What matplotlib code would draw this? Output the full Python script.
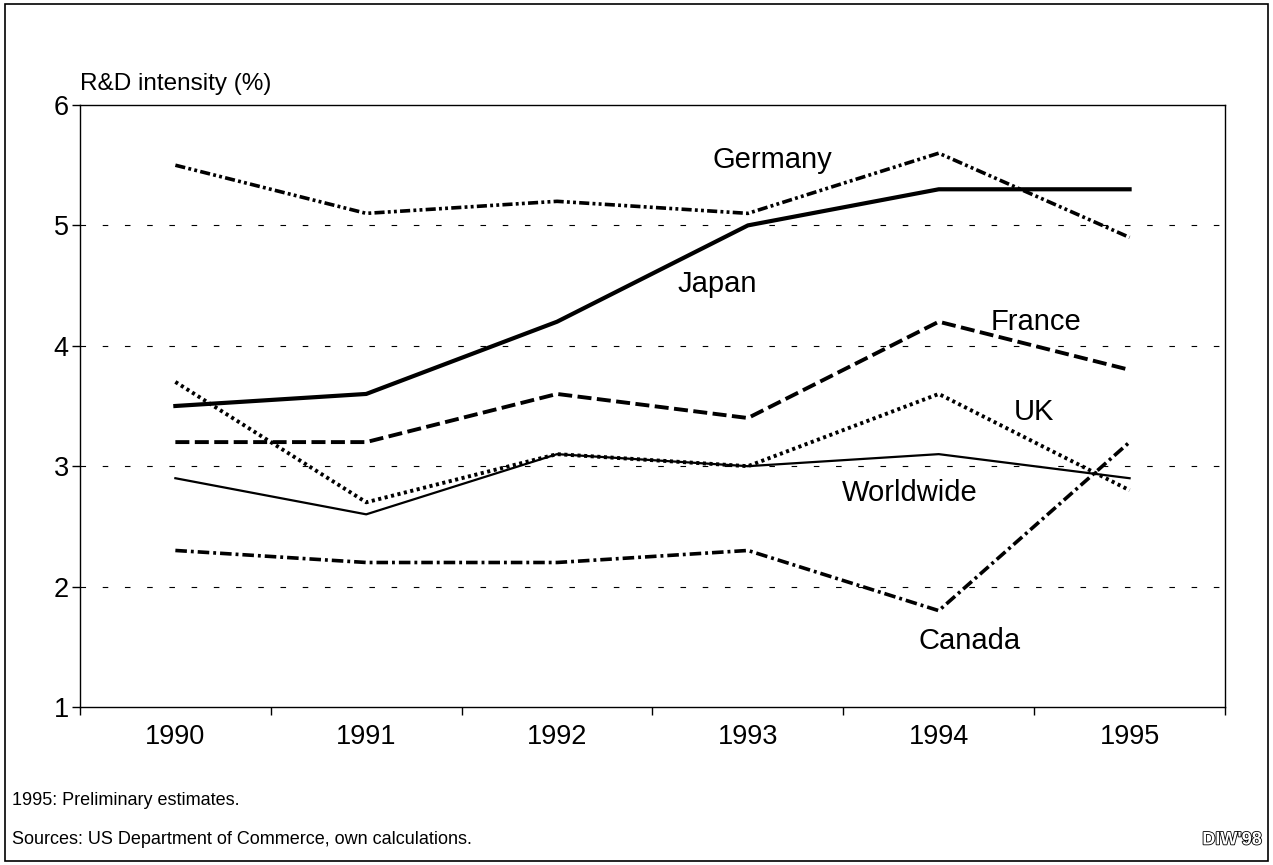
import matplotlib.pyplot as plt
import matplotlib.patheffects as pe
from matplotlib.patches import Rectangle

plt.rcParams['font.family'] = ['Liberation Sans', 'DejaVu Sans']

years = ["1990", "1991", "1992", "1993", "1994", "1995"]
germany = [5.5, 5.1, 5.2, 5.1, 5.6, 4.9]
japan = [3.5, 3.6, 4.2, 5.0, 5.3, 5.3]
france = [3.2, 3.2, 3.6, 3.4, 4.2, 3.8]
uk = [3.7, 2.7, 3.1, 3.0, 3.6, 2.8]
worldwide = [2.9, 2.6, 3.1, 3.0, 3.1, 2.9]
canada = [2.3, 2.2, 2.2, 2.3, 1.8, 3.2]

fig = plt.figure(figsize=(12.73, 8.65), dpi=100)
ax = fig.add_axes([0.0628, 0.1827, 0.8995, 0.6959])

x = range(len(years))
ax.plot(x, germany, color='black', lw=2.6, dashes=[2.8, 0.9, 0.8, 0.9, 0.8, 0.9])
ax.plot(x, japan, color='black', lw=3.0)
ax.plot(x, france, color='black', lw=2.8, dashes=[3.6, 1.4])
ax.plot(x, uk, color='black', lw=2.8, dashes=[0.8, 0.9])
ax.plot(x, worldwide, color='black', lw=1.6)
ax.plot(x, canada, color='black', lw=2.6, dashes=[3.2, 1.1, 0.8, 1.1])

labels = [("Germany", 3.13, 5.54), ("Japan", 2.84, 4.51), ("France", 4.51, 4.20),
          ("UK", 4.50, 3.45), ("Worldwide", 3.85, 2.78), ("Canada", 4.16, 1.55)]
for name, lx, ly in labels:
    ax.text(lx, ly, name, fontsize=21, ha='center', va='center')

ax.set_xlim(-0.5, 5.5)
ax.set_ylim(1, 6)
ax.set_yticks([1, 2, 3, 4, 5, 6])
ax.set_xticks(list(x))
ax.set_xticklabels(years)
ax.set_xticks([i - 0.5 for i in range(7)], minor=True)
ax.tick_params(axis='x', which='major', length=0, pad=12, labelsize=19.5)
ax.tick_params(axis='x', which='minor', length=6, direction='out', width=1)
ax.tick_params(axis='y', length=6, direction='out', width=1, labelsize=19.5, pad=2)
for y in [2, 3, 4, 5]:
    ax.axhline(y, color='black', lw=0.8, dashes=[5, 15], zorder=0)
for s in ax.spines.values():
    s.set_linewidth(1.0)

fig.text(0.0628, 0.903, "R&D intensity (%)", fontsize=17.5, ha='left', va='center')
fig.text(0.0094, 0.074, "1995: Preliminary estimates.", fontsize=13, ha='left', va='center')
fig.text(0.0094, 0.029, "Sources: US Department of Commerce, own calculations.", fontsize=13,
         ha='left', va='center')
fig.text(0.991, 0.029, "DIW'98", fontsize=13, ha='right', va='center', color='white',
         fontweight='bold', path_effects=[pe.withStroke(linewidth=1.2, foreground='black')])

fig.patches.append(Rectangle((0.004, 0.005), 0.992, 0.99, transform=fig.transFigure,
                             fill=False, edgecolor='black', lw=1.2))

fig.savefig("out.png", dpi=100)
